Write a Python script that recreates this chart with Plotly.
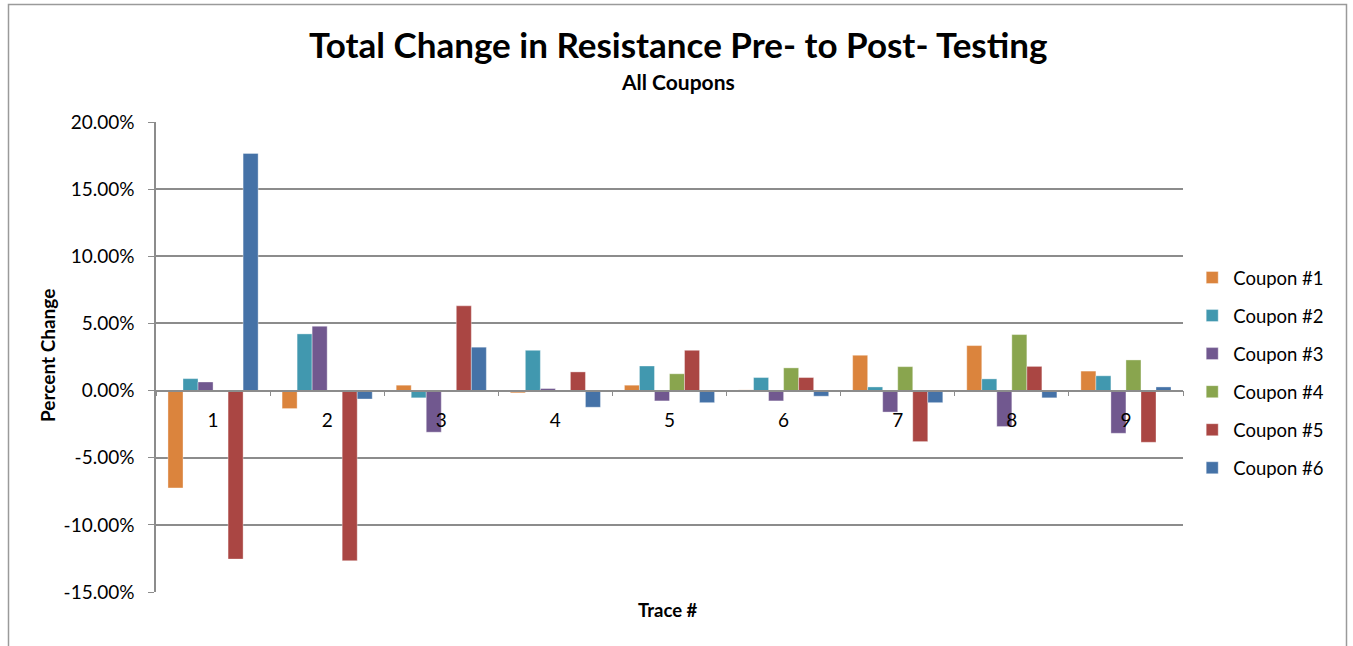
import plotly.graph_objects as go

# Trace numbers along the category axis
traces = ["1", "2", "3", "4", "5", "6", "7", "8", "9"]

# Percent change in resistance (fractions) for each coupon, per trace
coupon_1 = [-0.0725, -0.0134, 0.0040, -0.0017, 0.0040, 0.0005, 0.0263, 0.0335, 0.0145]
coupon_2 = [0.0089, 0.0422, -0.0054, 0.0300, 0.0183, 0.0097, 0.0027, 0.0087, 0.0110]
coupon_3 = [0.0064, 0.0479, -0.0310, 0.0015, -0.0077, -0.0077, -0.0160, -0.0268, -0.0318]
coupon_4 = [0.0, 0.0, 0.0, 0.0, 0.0125, 0.0169, 0.0178, 0.0417, 0.0228]
coupon_5 = [-0.1255, -0.1267, 0.0631, 0.0139, 0.0300, 0.0097, -0.0380, 0.0180, -0.0385]
coupon_6 = [0.1766, -0.0063, 0.0323, -0.0124, -0.0090, -0.0042, -0.0090, -0.0054, 0.0027]

series_names = ["Coupon #1", "Coupon #2", "Coupon #3", "Coupon #4", "Coupon #5", "Coupon #6"]
series_values = [coupon_1, coupon_2, coupon_3, coupon_4, coupon_5, coupon_6]
series_colors = ["#DB843D", "#4198AF", "#71588F", "#89A54E", "#AA4643", "#4572A7"]

# Value-axis ticks and their labels
y_tick_vals = [-0.15, -0.10, -0.05, 0.0, 0.05, 0.10, 0.15, 0.20]
y_tick_text = ["-15.00%", "-10.00%", "-5.00%", "0.00%", "5.00%", "10.00%", "15.00%", "20.00%"]

FONT = "Lato, 'Open Sans', sans-serif"
GRID = "#8c8c8c"

fig = go.Figure()
for i, (name, vals, col) in enumerate(zip(series_names, series_values, series_colors)):
    fig.add_trace(go.Bar(
        x=traces, y=vals, name=name, legendgroup=str(i),
        marker=dict(color=col, line=dict(width=0.6, color="rgba(255,255,255,0.6)")),
    ))

y_min, y_max = -0.15, 0.20

fig.update_layout(
    width=1353, height=646,
    margin=dict(l=156, r=170, t=122, b=54, autoexpand=False),
    paper_bgcolor="white", plot_bgcolor="white",
    font=dict(family=FONT, size=18, color="black"),
    barmode="group", bargap=0.21, bargroupgap=0,
    showlegend=True,
    legend=dict(
        x=1.008, xanchor="left", y=0.466, yanchor="middle",
        font=dict(family=FONT, size=18.5), tracegroupgap=11,
        itemwidth=32,
        bgcolor="rgba(0,0,0,0)",
    ),
    xaxis=dict(
        type="category", anchor="free",
        position=(0 - y_min) / (y_max - y_min),
        showline=True, linecolor=GRID, linewidth=1.5,
        ticks="outside", tickson="boundaries", ticklen=5, tickcolor=GRID,
        ticklabelstandoff=13, showgrid=False,
        tickfont=dict(family=FONT, size=19),
    ),
    yaxis=dict(
        range=[y_min, y_max], tickvals=y_tick_vals, ticktext=y_tick_text,
        showgrid=True, gridcolor=GRID, gridwidth=1.5,
        zeroline=True, zerolinecolor=GRID, zerolinewidth=1.5,
        showline=True, linecolor=GRID, linewidth=1.5,
        ticks="outside", ticklen=6, tickcolor=GRID,
        ticklabelstandoff=10,
        tickfont=dict(family=FONT, size=19),
    ),
    annotations=[
        dict(text="<b>Total Change in Resistance Pre- to Post- Testing</b>",
             xref="paper", yref="paper", x=0.508, y=(592 - 44) / 470,
             xanchor="center", yanchor="middle", showarrow=False,
             font=dict(family=FONT, size=35)),
        dict(text="<b>All Coupons</b>",
             xref="paper", yref="paper", x=0.508, y=(592 - 81) / 470,
             xanchor="center", yanchor="middle", showarrow=False,
             font=dict(family=FONT, size=21)),
        dict(text="<b>Percent Change</b>", textangle=-90,
             xref="paper", yref="paper", x=(47 - 156) / 1027, y=(592 - 356) / 470,
             xanchor="center", yanchor="middle", showarrow=False,
             font=dict(family=FONT, size=19)),
        dict(text="<b>Trace #</b>",
             xref="paper", yref="paper", x=(668 - 156) / 1027, y=(592 - 610) / 470,
             xanchor="center", yanchor="middle", showarrow=False,
             font=dict(family=FONT, size=18.5)),
    ],
    shapes=[
        dict(type="rect", xref="paper", yref="paper",
             x0=(8.5 - 156) / 1027, x1=(1346.5 - 156) / 1027,
             y0=-0.2, y1=(592 - 4.5) / 470,
             line=dict(color="#9a9a9a", width=1.5), fillcolor="rgba(0,0,0,0)",
             layer="below"),
    ],
)

fig.write_html("out.html")
